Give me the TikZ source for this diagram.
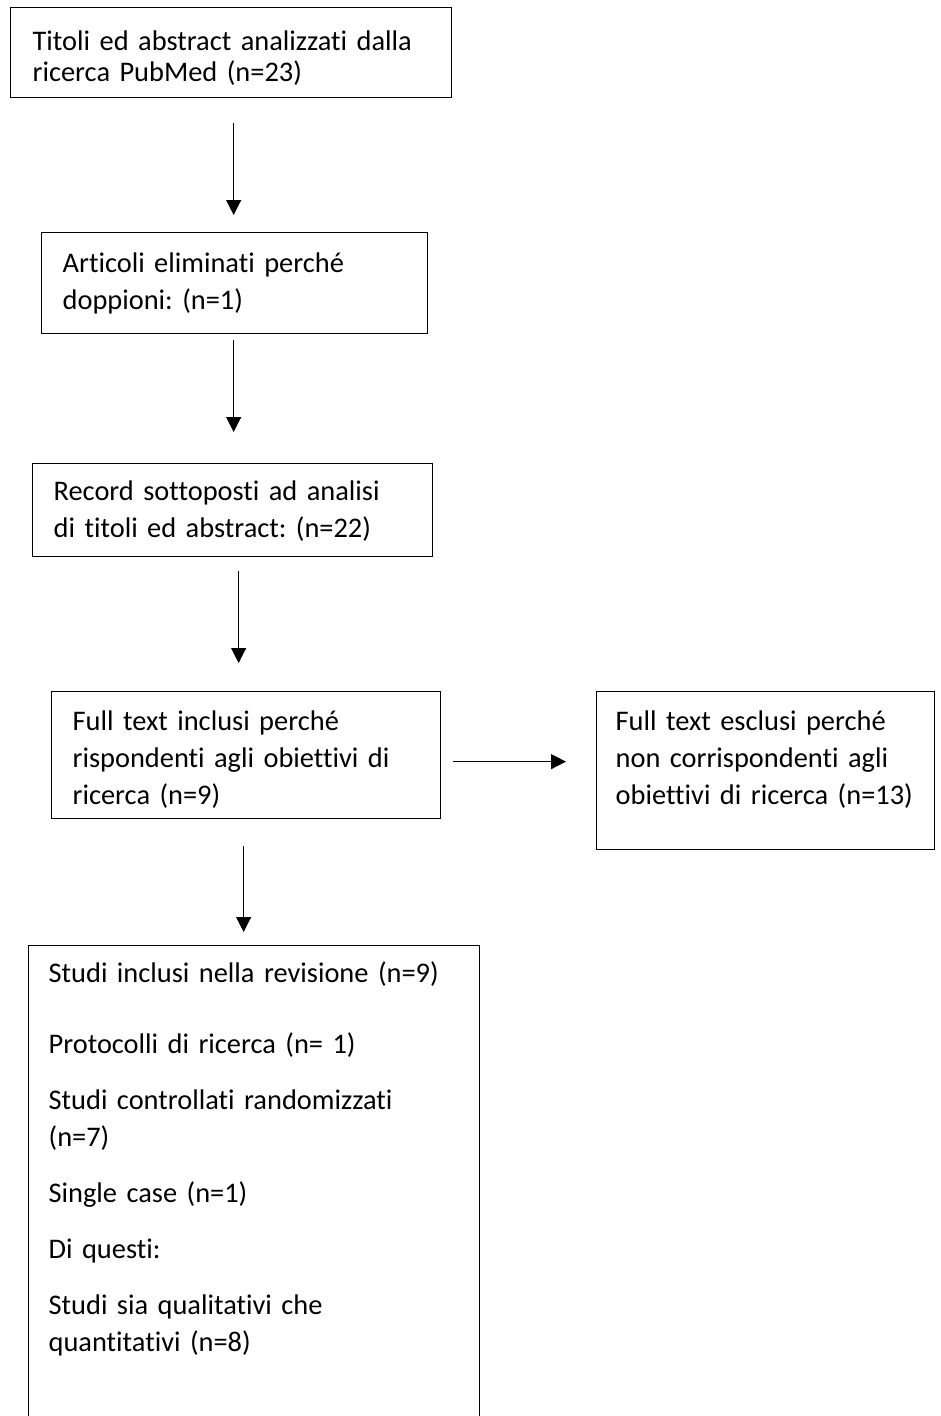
\documentclass[tikz,border=0pt]{standalone}
\usepackage{fontspec}
\setmainfont{Carlito}[Ligatures=NoCommon]
\usetikzlibrary{arrows.meta}
\frenchspacing

\begin{document}
\begin{tikzpicture}[x=1pt,y=-1pt,
    flowbox/.style={draw,line width=1.3pt,anchor=north west,inner ysep=0pt,align=left,
      font=\fontsize{28.4pt}{37pt}\selectfont},
    flowarrow/.style={line width=0.9pt,-{Triangle[width=15pt,length=15pt]}}]
  \useasboundingbox (0,0) rectangle (940,1416);

  \node[flowbox,inner xsep=22pt,text width=397pt,text height=43pt,text depth=47pt,
    font=\fontsize{28.4pt}{31pt}\selectfont] (titoli) at (10,7)
    {Titoli ed abstract analizzati dalla\\ricerca PubMed (n=23)};
  \node[flowbox,inner xsep=21pt,text width=344pt,text height=40pt,text depth=61pt] (doppioni) at (41,232)
    {Articoli eliminati perché\\doppioni: (n=1)};
  \node[flowbox,inner xsep=21pt,text width=358pt,text height=37pt,text depth=56pt] (record) at (32,463)
    {Record sottoposti ad analisi\\di titoli ed abstract: (n=22)};
  \node[flowbox,inner xsep=21pt,text width=347pt,text height=39pt,text depth=88pt] (inclusi) at (51,691)
    {Full text inclusi perché\\rispondenti agli obiettivi di\\ricerca (n=9)};
  \node[flowbox,inner xsep=19pt,text width=300pt,text height=39pt,text depth=119pt] (esclusi) at (596,691)
    {Full text esclusi perché\\non corrispondenti agli\\\mbox{obiettivi di ricerca (n=13)}};
  \node[flowbox,inner xsep=20pt,text width=411pt,text height=37pt,text depth=470pt] (studi) at (28,945)
    {Studi inclusi nella revisione (n=9)\\[34pt]
     Protocolli di ricerca (n= 1)\\[19pt]
     Studi controllati randomizzati\\(n=7)\\[19pt]
     Single case (n=1)\\[19pt]
     Di questi:\\[19pt]
     Studi sia qualitativi che\\quantitativi (n=8)};

  \draw[flowarrow,shorten <=25pt,shorten >=17pt] ([xshift=2.5pt]titoli.south) -- ([xshift=2.5pt]titoli.south |- doppioni.north);
  \draw[flowarrow,shorten <=6pt,shorten >=31pt] ([xshift=-1pt]doppioni.south) -- ([xshift=-1pt]doppioni.south |- record.north);
  \draw[flowarrow,shorten <=14pt,shorten >=28pt] ([xshift=6pt]record.south) -- ([xshift=6pt]record.south |- inclusi.north);
  \draw[flowarrow,shorten <=12pt,shorten >=30pt] ([yshift=-6.5pt]inclusi.east) -- ([yshift=-6.5pt]inclusi.east -| esclusi.west);
  \draw[flowarrow,shorten <=27pt,shorten >=13pt] ([xshift=-2.5pt]inclusi.south) -- ([xshift=-2.5pt]inclusi.south |- studi.north);
\end{tikzpicture}
\end{document}
